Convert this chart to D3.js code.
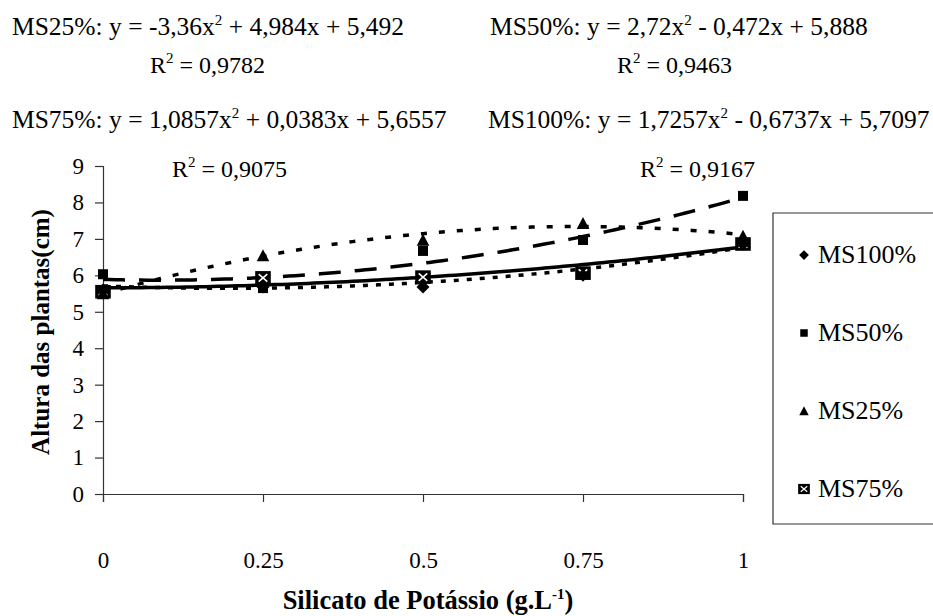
<!DOCTYPE html>
<html>
<head>
<meta charset="utf-8">
<script src="https://cdn.jsdelivr.net/npm/d3@7"></script>
<style>
  html, body { margin: 0; padding: 0; background: #fff; }
  svg { display: block; }
  svg text { font-family: "Liberation Serif", "Times New Roman", serif; fill: #000; }
</style>
</head>
<body>
<svg id="chart" width="933" height="616" font-family="Liberation Serif, serif"></svg>
<script>
// Doses of potassium silicate (g.L-1)
const doses = [0, 0.25, 0.5, 0.75, 1];
const doseLabels = ["0", "0.25", "0.5", "0.75", "1"];
const yTicks = [0, 1, 2, 3, 4, 5, 6, 7, 8, 9];

// Plant height (cm) for each medium strength
const ms100 = [5.6, 5.68, 5.68, 6.0, 6.85];
const ms50  = [6.03, 5.65, 6.67, 6.97, 8.18];
const ms25  = [5.5, 6.54, 6.97, 7.43, 7.08];
const ms75  = [5.55, 5.93, 5.95, 6.06, 6.86];

// Quadratic trend coefficients [a, b, c] for y = a x^2 + b x + c
const fit100 = [1.7257, -0.6737, 5.7097];
const fit50  = [2.72, -0.472, 5.888];
const fit25  = [-3.36, 4.984, 5.492];
const fit75  = [1.0857, 0.0383, 5.6557];

const legendNames = ["MS100%", "MS50%", "MS25%", "MS75%"];

const series = [
  { name: "MS100%", values: ms100, fit: fit100, marker: "diamond",  dash: "5,8" },
  { name: "MS50%",  values: ms50,  fit: fit50,  marker: "square",   dash: "22,14" },
  { name: "MS25%",  values: ms25,  fit: fit25,  marker: "triangle", dash: "6,12" },
  { name: "MS75%",  values: ms75,  fit: fit75,  marker: "xbox",     dash: null }
];

const svg = d3.select("#chart");
const x = d3.scaleLinear().domain([0, 1]).range([103, 743]);
const y = d3.scaleLinear().domain([0, 9]).range([494, 166]);

// Equations and R² annotations
function equation(g, px, py, size, pre, sq, post) {
  const t = g.append("text").attr("x", px).attr("y", py).style("font-size", size + "px");
  t.append("tspan").text(pre);
  t.append("tspan").attr("dy", -10).style("font-size", "15px").text(sq);
  t.append("tspan").attr("dy", 10).text(post);
}
const ann = svg.append("g");
equation(ann, 12, 35, 25.5, "MS25%: y = -3,36x", "2", " + 4,984x + 5,492");
equation(ann, 150, 73, 24, "R", "2", " = 0,9782");
equation(ann, 490, 35, 25.5, "MS50%: y = 2,72x", "2", " - 0,472x + 5,888");
equation(ann, 617, 73, 24, "R", "2", " = 0,9463");
equation(ann, 12, 128, 25.5, "MS75%: y = 1,0857x", "2", " + 0,0383x + 5,6557");
equation(ann, 172, 177, 24, "R", "2", " = 0,9075");
equation(ann, 488, 128, 25.5, "MS100%: y = 1,7257x", "2", " - 0,6737x + 5,7097");
equation(ann, 640, 177, 24, "R", "2", " = 0,9167");

// Axes
const yAxis = svg.append("g").attr("transform", `translate(${x(0)},0)`)
  .call(d3.axisLeft(y).tickValues(yTicks).tickSize(8).tickPadding(11).tickFormat(d3.format("d")));
const xAxis = svg.append("g").attr("transform", `translate(0,${y(0)})`)
  .call(d3.axisBottom(x).tickValues(doses).tickSize(8).tickPadding(50).tickFormat((d, i) => doseLabels[i]));
[yAxis, xAxis].forEach(a => {
  a.select(".domain").attr("stroke", "#333").attr("stroke-width", 1.2);
  a.selectAll(".tick line").attr("stroke", "#333").attr("stroke-width", 1.2);
  a.selectAll(".tick text").style("font-size", "23px").attr("fill", "#000")
    .style("font-family", "'Liberation Serif', serif");
});

// Trend curves from the quadratic fits
const xs = d3.range(0, 1.0001, 0.01);
const line = d3.line().x(d => x(d[0])).y(d => y(d[1]));
series.forEach(s => {
  const pts = xs.map(v => [v, s.fit[0] * v * v + s.fit[1] * v + s.fit[2]]);
  svg.append("path").attr("d", line(pts)).attr("fill", "none")
    .attr("stroke", "#000").attr("stroke-width", 3.5)
    .attr("stroke-dasharray", s.dash);
});

// Marker shapes
function drawMarker(g, type, cx, cy, k) {
  if (type === "diamond") {
    const r = 6.5 * k;
    g.append("path").attr("d", `M${cx},${cy - r}L${cx + r},${cy}L${cx},${cy + r}L${cx - r},${cy}Z`).attr("fill", "#000");
  } else if (type === "square") {
    const h = 5 * k;
    g.append("rect").attr("x", cx - h).attr("y", cy - h).attr("width", 2 * h).attr("height", 2 * h).attr("fill", "#000");
  } else if (type === "triangle") {
    const h = 6.3 * k;
    g.append("path").attr("d", `M${cx},${cy - h}L${cx + h},${cy + h * 0.9}L${cx - h},${cy + h * 0.9}Z`).attr("fill", "#000");
  } else {
    const w = 7.8 * k, hh = 6.8 * k;
    g.append("rect").attr("x", cx - w).attr("y", cy - hh).attr("width", 2 * w).attr("height", 2 * hh).attr("fill", "#000");
    const i = 0.55;
    g.append("path")
      .attr("d", `M${cx - w * i},${cy - hh * i}L${cx + w * i},${cy + hh * i}M${cx + w * i},${cy - hh * i}L${cx - w * i},${cy + hh * i}`)
      .attr("stroke", "#fff").attr("stroke-width", 1.6 * k);
  }
}
const markerOrder = [3, 2, 1, 0];
markerOrder.forEach(si => {
  const s = series[si];
  const g = svg.append("g");
  s.values.forEach((v, i) => drawMarker(g, s.marker, x(doses[i]), y(v), 1));
});

// Axis titles
svg.append("clipPath").attr("id", "ytclip").append("rect")
  .attr("x", 0).attr("y", 203).attr("width", 100).attr("height", 300);
svg.append("g").attr("clip-path", "url(#ytclip)")
  .append("text")
  .attr("transform", `translate(49,${(203 + 453) / 2 + 4}) rotate(-90)`)
  .attr("text-anchor", "middle").style("font-size", "25px").style("font-weight", "bold")
  .text("Altura das plantas(cm)");

const xt = svg.append("text").attr("x", 428).attr("y", 609).attr("text-anchor", "middle")
  .style("font-size", "26.5px").style("font-weight", "bold");
xt.append("tspan").text("Silicato de Potássio (g.L");
xt.append("tspan").attr("dy", -10).style("font-size", "15px").text("-1");
xt.append("tspan").attr("dy", 10).text(")");

// Legend
const lg = svg.append("g");
lg.append("path").attr("d", "M935,213H773V524H935").attr("fill", "none").attr("stroke", "#333").attr("stroke-width", 1.2);
const legendY = [255, 333, 411, 489];
series.forEach((s, i) => {
  drawMarker(lg, s.marker, 804, legendY[i], 0.75);
  lg.append("text").attr("x", 818).attr("y", legendY[i] + 8).style("font-size", "26px").text(legendNames[i]);
});
</script>
</body>
</html>
